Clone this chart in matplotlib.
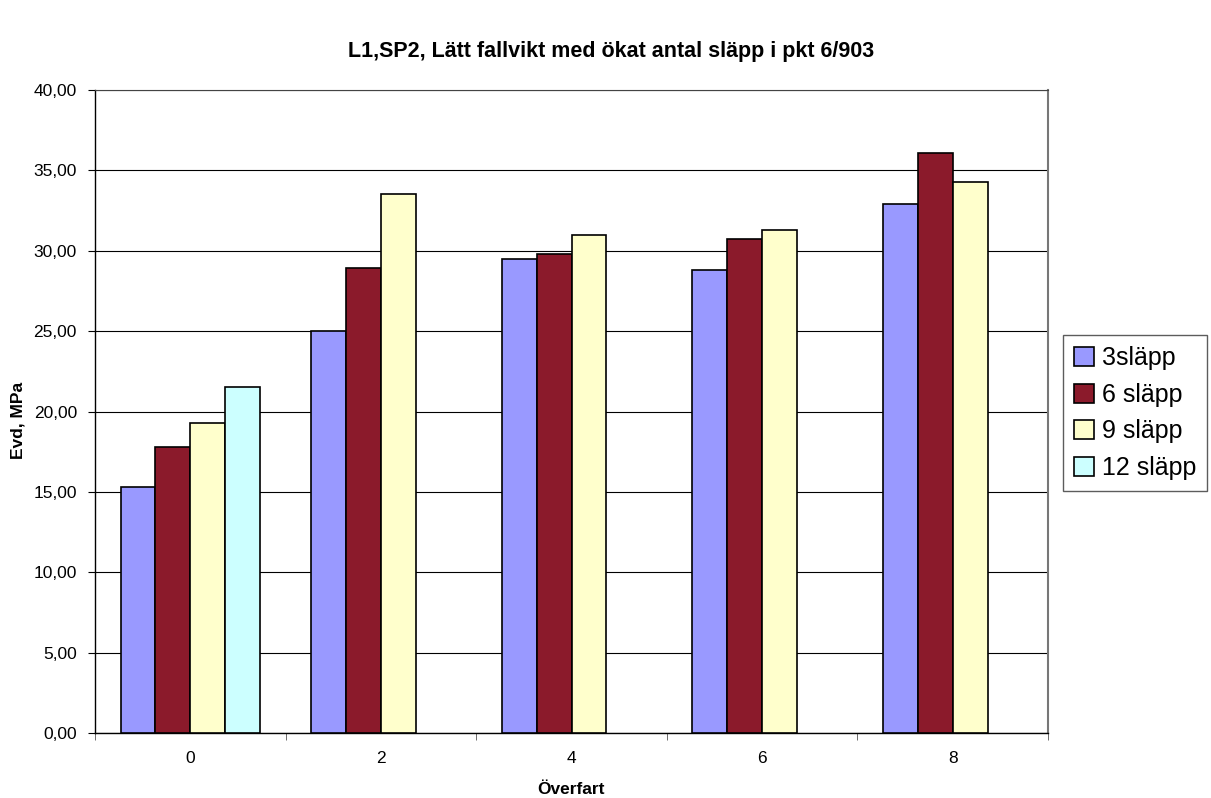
import numpy as np
import matplotlib; matplotlib.use("Agg"); import matplotlib.pyplot as plt
from matplotlib.ticker import FixedLocator, FuncFormatter

plt.rcParams['font.family'] = ['Liberation Sans', 'DejaVu Sans']

categories = ["0", "2", "4", "6", "8"]
series = ["3släpp", "6 släpp", "9 släpp", "12 släpp"]
s3 = [15.3, 25.0, 29.5, 28.8, 32.9]
s6 = [17.8, 28.9, 29.8, 30.7, 36.1]
s9 = [19.3, 33.5, 31.0, 31.3, 34.3]
s12 = [21.5, np.nan, np.nan, np.nan, np.nan]
colors = ["#9999ff", "#8b1a2b", "#ffffcc", "#ccffff"]

fig = plt.figure(figsize=(12.11, 7.98), dpi=100)
ax = fig.add_axes([95/1211, 1-733/798, (1048-95)/1211, (733-90)/798])

x = np.arange(len(categories))
w = 0.183
for i, (vals, lab, c) in enumerate(zip([s3, s6, s9, s12], series, colors)):
    v = np.array(vals, dtype=float)
    ok = ~np.isnan(v)
    ax.bar(x[ok] + (i-1.5)*w, v[ok], width=w, color=c, edgecolor="black",
           linewidth=1.2, label=lab, zorder=3)

ax.set_xlim(-0.5, len(categories)-0.5)
ax.set_ylim(0, 40)
ax.set_yticks(np.arange(0, 40.1, 5))
ax.yaxis.set_major_formatter(FuncFormatter(lambda v, p: f"{v:.2f}".replace(".", ",")))
ax.grid(axis="y", color="black", linewidth=0.8, zorder=0)
ax.set_xticks(x)
ax.set_xticklabels(categories)
ax.xaxis.set_minor_locator(FixedLocator(np.arange(-0.5, len(categories), 1.0)))
ax.tick_params(axis="x", which="major", length=0, pad=13, labelsize=12.5)
ax.tick_params(axis="x", which="minor", length=5, direction="out", color="#555555")
ax.tick_params(axis="y", length=5, direction="out", labelsize=12.5, pad=8)
ax.spines["top"].set_color("#444444")
ax.spines["right"].set_color("#777777")
ax.spines["right"].set_linewidth(1.5)
ax.spines["left"].set_linewidth(1.0)
ax.spines["bottom"].set_linewidth(1.0)

fig.text(571/1211, 1-790/798, "Överfart", ha="center", va="center",
         fontsize=12.5, fontweight="bold")
fig.text(18/1211, 1-420/798, "Evd, MPa", ha="center", va="center", rotation=90,
         fontsize=12.5, fontweight="bold")
fig.text(611/1211, 1-52/798, "L1,SP2, Lätt fallvikt med ökat antal släpp i pkt 6/903",
         ha="center", va="center", fontsize=15.5, fontweight="bold")

leg = ax.legend(loc="center left", bbox_to_anchor=((1063-95)/953, (733-413)/643), fontsize=18,
                frameon=True, fancybox=False, edgecolor="#333333", handlelength=0.8,
                handleheight=0.8, handletextpad=0.3, borderpad=0.45, labelspacing=0.5,
                borderaxespad=0)
leg.get_frame().set_linewidth(1.0)

fig.savefig("out.png", dpi=100)
